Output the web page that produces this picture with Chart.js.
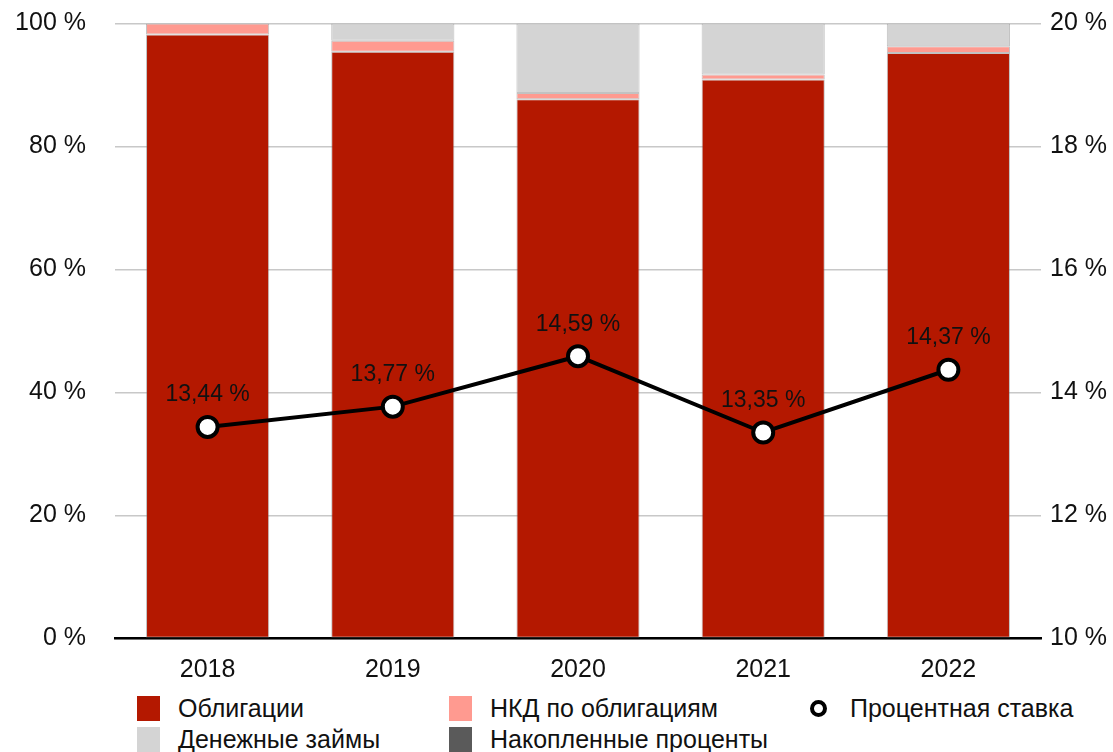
<!DOCTYPE html>
<html>
<head>
<meta charset="utf-8">
<script src="https://cdn.jsdelivr.net/npm/chart.js@4"></script>
<style>
  body { margin: 0; background: #fff; font-family: "Liberation Sans", Arial, sans-serif; }
  #wrap { position: relative; width: 1113px; height: 752px; overflow: hidden; }
  #chart { position: absolute; left: 0; top: 0; }
  .leg { position: absolute; font-size: 25px; color: #111; line-height: 28px; white-space: nowrap; }
  .box { position: absolute; width: 23px; height: 25px; }
  .dot { position: absolute; width: 9px; height: 9px; border: 4px solid #000; border-radius: 50%; background: #fff; }
</style>
</head>
<body>
<div id="wrap">
  <canvas id="chart" width="1113" height="690"></canvas>
  <div class="box" style="left:137px;top:696px;background:#b41800"></div>
  <div class="leg" style="left:178px;top:694px">Облигации</div>
  <div class="box" style="left:137px;top:727px;background:#d4d4d4"></div>
  <div class="leg" style="left:178px;top:725px">Денежные займы</div>
  <div class="box" style="left:449px;top:696px;background:#ff9a90"></div>
  <div class="leg" style="left:490px;top:694px">НКД по облигациям</div>
  <div class="box" style="left:449px;top:727px;background:#5a5a5a"></div>
  <div class="leg" style="left:490px;top:725px">Накопленные проценты</div>
  <div class="dot" style="left:810px;top:700px"></div>
  <div class="leg" style="left:850px;top:694px">Процентная ставка</div>
</div>
<script>
// годы
const years = ["2018", "2019", "2020", "2021", "2022"];
// доли в портфеле, %
const bonds = [98.2, 95.4, 87.7, 90.9, 95.2];
const accruedCoupon = [1.8, 1.8, 1.0, 0.8, 1.1];
const loans = [0, 2.8, 11.3, 8.3, 3.7];
const accruedInterest = [0, 0, 0, 0, 0];
// процентная ставка, %
const rate = [13.44, 13.77, 14.59, 13.35, 14.37];

const leftTicks = [0, 20, 40, 60, 80, 100];
const rightTicks = [10, 12, 14, 16, 18, 20];

const tickFont = { family: "Liberation Sans", size: 25 };

function fmt(v) {
  return String(v).replace(".", ",") + " %";
}

const pointLabels = {
  id: "pointLabels",
  afterDatasetsDraw(chart) {
    const ctx = chart.ctx;
    const meta = chart.getDatasetMeta(4);
    ctx.save();
    ctx.font = "23px 'Liberation Sans'";
    ctx.fillStyle = "#111";
    ctx.textAlign = "center";
    ctx.textBaseline = "middle";
    meta.data.forEach((pt, i) => {
      ctx.fillText(rate[i].toFixed(2).replace(".", ",") + " %", pt.x, pt.y - 32);
    });
    ctx.restore();
  }
};

function barSet(label, data, color, border) {
  return {
    type: "bar",
    label: label,
    data: data,
    backgroundColor: color,
    borderColor: "rgba(120,120,120,0.45)",
    borderWidth: border,
    borderSkipped: false,
    barPercentage: 1,
    categoryPercentage: 0.665,
    yAxisID: "y",
    stack: "s",
    order: 1
  };
}

function fitY(width) {
  return function (scale) {
    scale.width = width;
    scale.paddingTop = 0;
    scale.paddingBottom = 0;
  };
}

new Chart(document.getElementById("chart"), {
  data: {
    labels: years,
    datasets: [
      barSet("Облигации", bonds, "#b41800", 1),
      barSet("НКД по облигациям", accruedCoupon, "#ff9a90", 1),
      barSet("Денежные займы", loans, "#d4d4d4", 1),
      barSet("Накопленные проценты", accruedInterest, "#5a5a5a", 0),
      {
        type: "line",
        label: "Процентная ставка",
        data: rate,
        yAxisID: "y2",
        borderColor: "#000",
        borderWidth: 4,
        pointRadius: 10,
        pointBorderWidth: 4,
        pointBackgroundColor: "#fff",
        pointBorderColor: "#000",
        tension: 0,
        order: 0
      }
    ]
  },
  options: {
    responsive: false,
    animation: false,
    layout: { padding: { top: 23.5 } },
    scales: {
      x: {
        stacked: true,
        grid: { display: false },
        border: { color: "#000", width: 2.5 },
        ticks: { font: tickFont, color: "#111", padding: 9 },
        afterFit(scale) { scale.height = 51.5; }
      },
      y: {
        position: "left",
        stacked: true,
        min: 0,
        max: 100,
        afterBuildTicks(scale) { scale.ticks = leftTicks.map(v => ({ value: v })); },
        grid: { color: "#c8c8c8", lineWidth: 1.5, drawTicks: false },
        border: { display: false },
        ticks: { font: tickFont, color: "#111", padding: 29, callback: v => fmt(v) },
        afterFit: fitY(115)
      },
      y2: {
        position: "right",
        min: 10,
        max: 20,
        afterBuildTicks(scale) { scale.ticks = rightTicks.map(v => ({ value: v })); },
        grid: { drawOnChartArea: false, drawTicks: false },
        border: { display: false },
        ticks: { font: tickFont, color: "#111", padding: 9, callback: v => fmt(v) },
        afterFit: fitY(72)
      }
    },
    plugins: {
      legend: { display: false },
      tooltip: { enabled: false }
    }
  },
  plugins: [pointLabels]
});
</script>
</body>
</html>
